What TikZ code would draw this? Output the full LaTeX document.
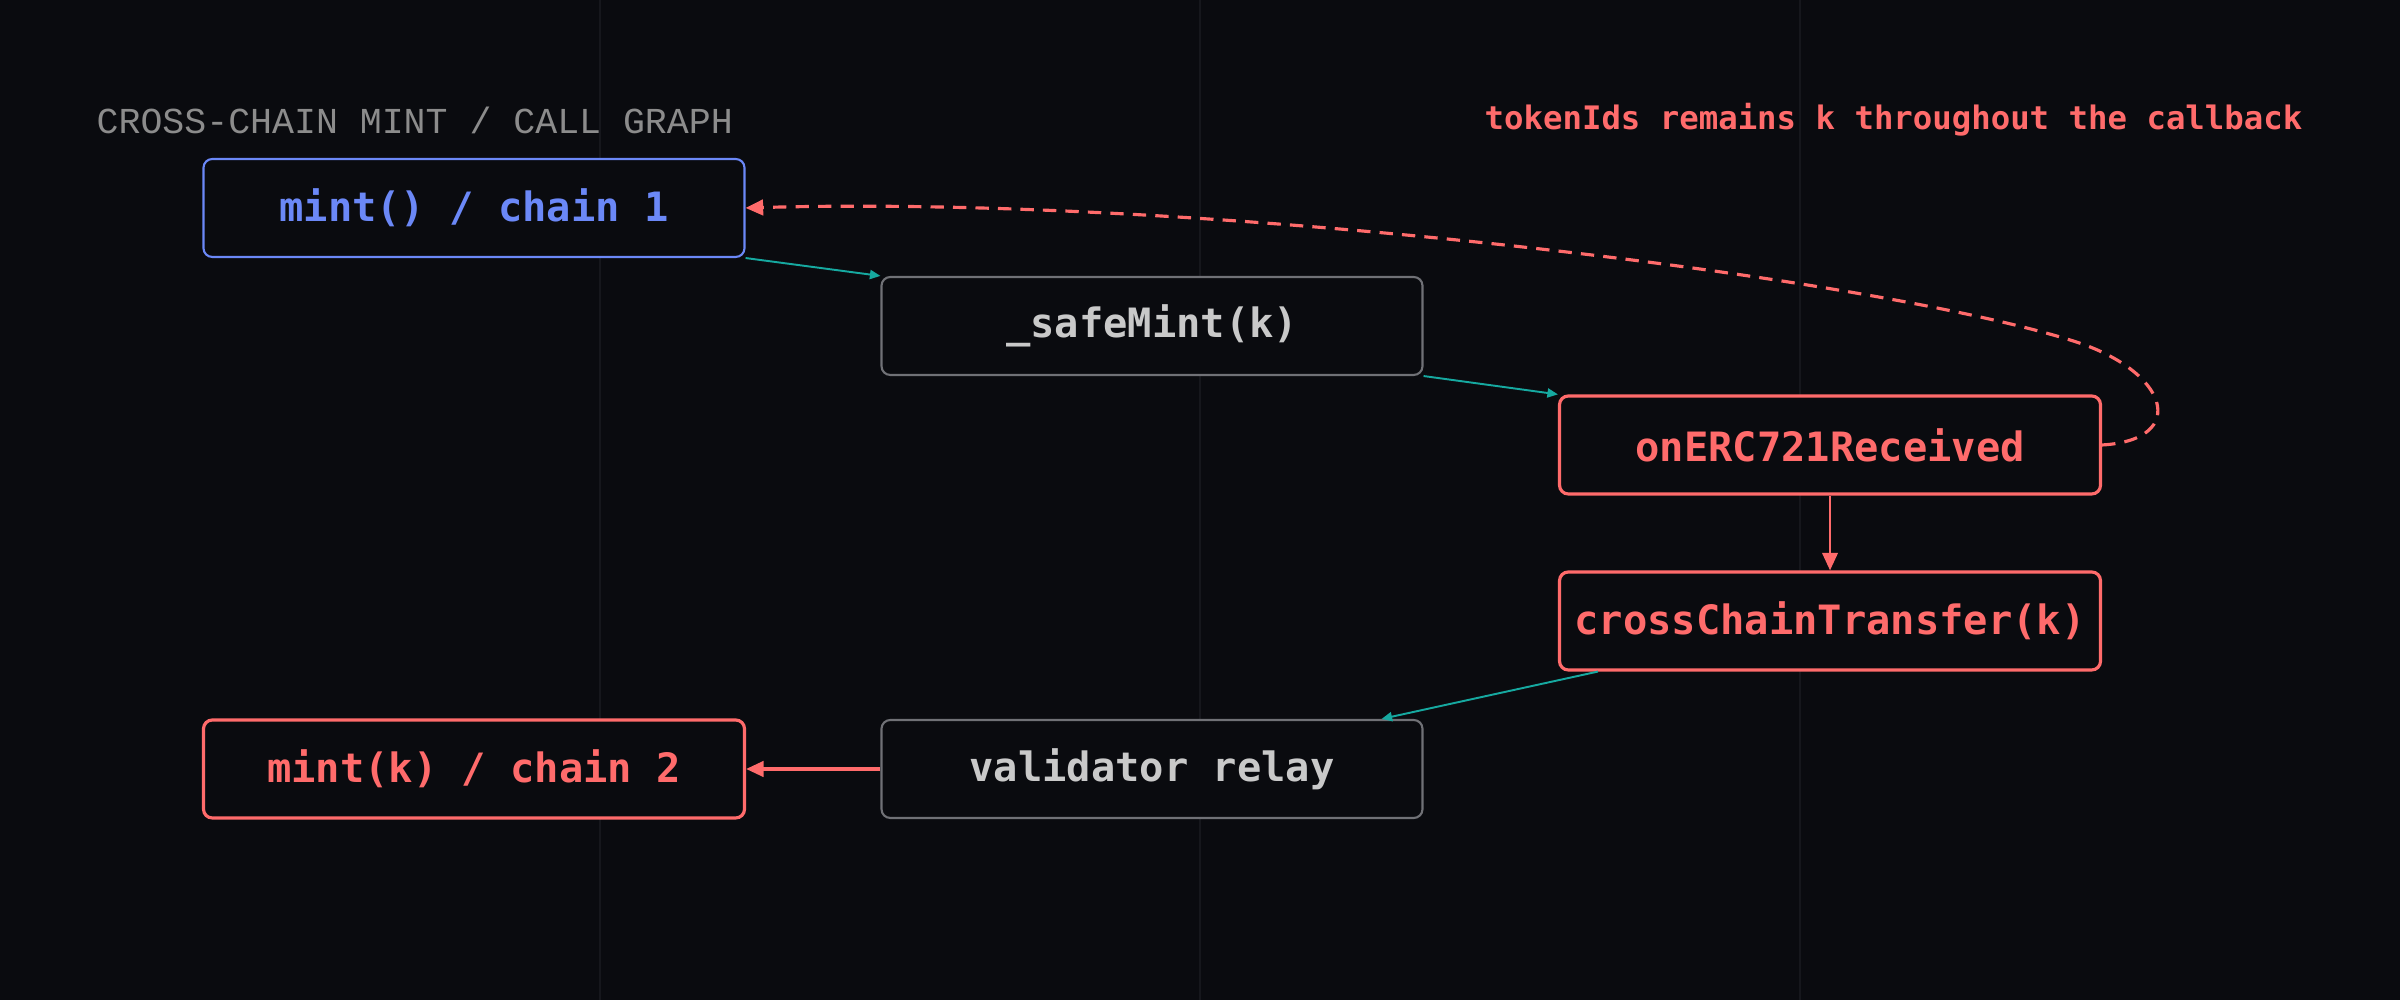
\documentclass[tikz,border=0pt]{standalone}
\usepackage{fontspec}
\setmonofont{DejaVu Sans Mono}
\newfontfamily\titlefont{Liberation Mono}
\usetikzlibrary{arrows.meta}
\definecolor{bgdark}{HTML}{0A0B0F}
\definecolor{gridline}{HTML}{16171C}
\definecolor{callblue}{HTML}{6B88F7}
\definecolor{callred}{HTML}{FF6B6B}
\definecolor{calltext}{HTML}{C9C9C9}
\definecolor{callgray}{HTML}{707176}
\definecolor{callteal}{HTML}{16A9A0}
\definecolor{titlegray}{HTML}{8C8C8C}

\begin{document}
\begin{tikzpicture}[
    callbox/.style={draw, rounded corners=2.5pt, minimum width=5.41cm, minimum height=0.98cm,
      inner sep=0pt, fill=bgdark, font=\ttfamily\bfseries\fontsize{11.5}{13}\selectfont},
    plainbox/.style={callbox, draw=callgray, line width=0.6pt, text=calltext},
    bluebox/.style={callbox, draw=callblue, line width=0.6pt, text=callblue},
    redbox/.style={callbox, draw=callred, line width=0.9pt, text=callred},
    callflow/.style={callteal, line width=0.55pt, -{Triangle[length=3pt,width=2.6pt]}},
    redflow/.style={callred, line width=0.9pt, -{Triangle[length=5pt,width=4.4pt]}}
  ]
  \fill[bgdark] (0,0) rectangle (24,10);
  \useasboundingbox (0,0) rectangle (24,10);
  \foreach \gx in {6,12,18}
    \draw[gridline, line width=0.5pt] (\gx,0)--(\gx,10);

  \node[anchor=west, inner sep=0pt, text=titlegray, font=\titlefont\fontsize{10.4}{12}\selectfont] (title) at (0.96,8.80) {CROSS-CHAIN MINT / CALL GRAPH};
  \node[anchor=east, inner sep=0pt, text=callred, font=\ttfamily\bfseries\fontsize{9.2}{11}\selectfont] (note) at (23.03,8.80) {tokenIds remains k throughout the callback};

  \node[bluebox] (mintA) at (4.74,7.92) {mint() / chain 1};
  \node[plainbox] (safe) at (11.52,6.74) {\_safeMint(k)};
  \node[redbox] (recv) at (18.30,5.55) {onERC721Received};
  \node[redbox] (xfer) at (18.30,3.79) {crossChainTransfer(k)};
  \node[plainbox] (relay) at (11.52,2.31) {validator relay};
  \node[redbox] (mintB) at (4.74,2.31) {mint(k) / chain 2};

  \draw[callflow] (mintA.south east)--(safe.north west);
  \draw[callflow] (safe.south east)--(recv.north west);
  \draw[redflow, line width=0.7pt] (recv.south)--(xfer.north);
  \draw[callflow] ([xshift=0.4cm]xfer.south west)--([xshift=-0.42cm]relay.north east);
  \draw[redflow] (relay.west)--(mintB.east);
  \draw[callred, line width=0.9pt, dash pattern=on 3.8pt off 2.6pt, -{Triangle[length=5pt,width=4.4pt]}]
    (recv.east) .. controls (21.9,5.6) and (21.7,6.3) .. (20.7,6.6)
    .. controls (18.6,7.25) and (12,8.05) .. (mintA.east);
\end{tikzpicture}
\end{document}
